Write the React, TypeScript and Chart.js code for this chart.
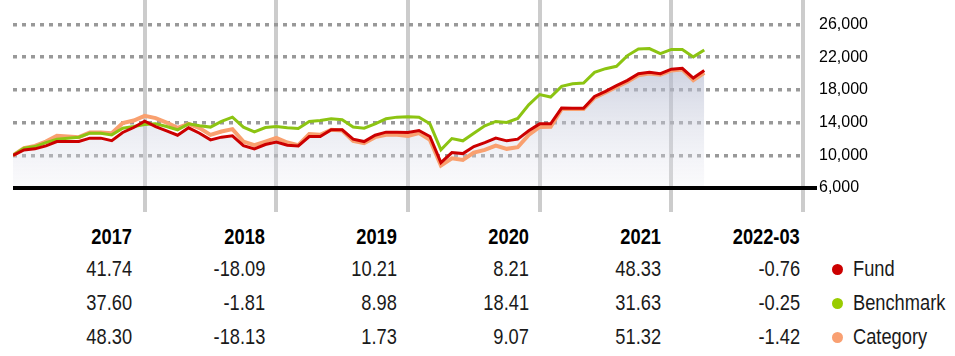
import React, { useEffect, useRef } from "react";
import { Chart, registerables } from "chart.js";

Chart.register(...registerables);

// Monthly growth of 10,000 — Dec 2016 (index 0) .. Mar 2022 (index 63)
const fundValues = [
  10000, 10660, 10790, 11150, 11680, 11680, 11700, 12100, 12100, 11800, 12790, 13400,
  14174, 13520, 13000, 12460, 13360, 12700, 11890, 12220, 12380, 11190, 10790, 11320,
  11610, 11240, 11150, 12300, 12300, 13120, 13120, 11970, 11680, 12460, 12830, 12830,
  12796, 13030, 12300, 9100, 10330, 10210, 11070, 11560, 12100, 11770, 11980, 13000,
  13846, 13850, 15780, 15760, 15760, 17200, 17820, 18520, 19170, 19990, 20150, 19990,
  20538, 20640, 19450, 20382,
];
const benchmarkValues = [
  10000, 10870, 11070, 11560, 11970, 12100, 12220, 12710, 12710, 12500, 13320, 13520,
  13760, 13850, 13520, 13120, 13850, 13610, 13450, 14140, 14670, 13450, 12870, 13400,
  13511, 13360, 13280, 14140, 14260, 14470, 14340, 13450, 13320, 13850, 14470, 14670,
  14725, 14670, 13850, 10660, 12050, 11770, 12710, 13610, 14140, 14010, 14510, 16180,
  17436, 17130, 18430, 18760, 18840, 20150, 20600, 20890, 22200, 23020, 23060, 22440,
  22951, 22930, 22040, 22894,
];
const categoryValues = [
  10000, 10870, 11150, 11680, 12380, 12300, 12220, 12790, 12790, 12710, 13940, 14260,
  14830, 14550, 14010, 13360, 13850, 13320, 12500, 12910, 13200, 11680, 11240, 11680,
  12141, 11560, 11240, 12590, 12500, 13120, 13030, 11770, 11480, 12220, 12500, 12500,
  12351, 12710, 11890, 8740, 9640, 9440, 10330, 10660, 11190, 10790, 10990, 12500,
  13471, 13500, 15650, 15650, 15650, 17050, 17700, 18350, 19000, 19800, 20000, 19850,
  20385, 20500, 19200, 20095,
];

const yTickValues = [6000, 10000, 14000, 18000, 22000, 26000];
const xMonthsSpan = 72; // Dec 2016 .. Dec 2022
const monthsPerYear = 12;

const periodLabels = ["2017", "2018", "2019", "2020", "2021", "2022-03"];
const fundReturns = [41.74, -18.09, 10.21, 8.21, 48.33, -0.76];
const benchmarkReturns = [37.6, -1.81, 8.98, 18.41, 31.63, -0.25];
const categoryReturns = [48.3, -18.13, 1.73, 9.07, 51.32, -1.42];
const seriesNames = ["Fund", "Benchmark", "Category"];

const FUND_COLOR = "#cc0000";
const BENCH_COLOR = "#8cc412";
const CAT_COLOR = "#f9a06f";
const DOT_COLORS = ["#cc0000", "#99cc00", "#f9a072"];

const TABLE_FONT = "'Liberation Sans', Arial, sans-serif";
const SQUEEZE = 0.83;

const colRight = [132, 265, 397, 529, 661, 800];
const rowCenter = [237, 269, 303, 337];

const baselinePlugin = {
  id: "baseline",
  afterDatasetsDraw(chart: any) {
    const { ctx, chartArea, scales } = chart;
    const y = scales.y.getPixelForValue(yTickValues[0]);
    ctx.save();
    ctx.strokeStyle = "#000";
    ctx.lineWidth = 4;
    ctx.beginPath();
    ctx.moveTo(chartArea.left, y);
    ctx.lineTo(chartArea.right + 14, y);
    ctx.stroke();
    ctx.restore();
  },
};

function GrowthChart() {
  const ref = useRef<HTMLCanvasElement>(null);
  useEffect(() => {
    document.body.style.margin = "0";
    const canvas = ref.current!;
    const chart = new Chart(canvas, {
      type: "line",
      data: {
        datasets: [
          {
            label: "Fund",
            data: fundValues.map((y, i) => ({ x: i, y })),
            borderColor: FUND_COLOR,
            borderWidth: 3,
            pointRadius: 0,
            tension: 0,
            fill: "start",
            backgroundColor: (c: any) => {
              const { chart } = c;
              const area = chart.chartArea;
              if (!area) return "rgba(200,204,218,0.5)";
              const g = chart.ctx.createLinearGradient(0, area.top + 50, 0, area.bottom);
              g.addColorStop(0, "rgba(165,172,198,0.65)");
              g.addColorStop(1, "rgba(235,236,243,0.25)");
              return g;
            },
          },
          {
            label: "Benchmark",
            data: benchmarkValues.map((y, i) => ({ x: i, y })),
            borderColor: BENCH_COLOR,
            borderWidth: 3,
            pointRadius: 0,
            tension: 0,
            fill: false,
          },
          {
            label: "Category",
            data: categoryValues.map((y, i) => ({ x: i, y })),
            borderColor: CAT_COLOR,
            borderWidth: 4,
            pointRadius: 0,
            tension: 0,
            fill: false,
          },
        ],
      },
      options: {
        responsive: false,
        animation: false,
        layout: { padding: { left: 13, top: 0, right: 0, bottom: 0 } },
        plugins: {
          legend: { display: false },
          tooltip: { enabled: false },
          filler: { drawTime: "beforeDatasetsDraw" },
        } as any,
        scales: {
          x: {
            type: "linear",
            min: 0,
            max: xMonthsSpan,
            ticks: { display: false, stepSize: monthsPerYear },
            grid: {
              color: (c: any) => (c.tick && c.tick.value === 0 ? "rgba(0,0,0,0)" : "#cccccc"),
              lineWidth: 4,
              drawTicks: true,
              tickLength: 24,
            },
            border: { display: false },
          },
          y: {
            type: "linear",
            position: "right",
            min: 6000,
            max: 29000,
            afterBuildTicks: (s: any) => {
              s.ticks = yTickValues.map((v) => ({ value: v }));
            },
            afterFit: (s: any) => {
              s.width = 152;
              s.paddingTop = 0;
              s.paddingBottom = 0;
            },
            ticks: {
              padding: 16,
              color: "#000",
              font: { family: "'Liberation Sans', Arial, sans-serif", size: 16 },
              callback: (v: any) => Number(v).toLocaleString("en-US"),
            },
            grid: {
              color: (c: any) => (c.tick && c.tick.value === yTickValues[0] ? "rgba(0,0,0,0)" : "#999999"),
              lineWidth: 3.5,
              drawTicks: false,
            },
            border: { display: false, dash: [4, 5] },
          },
        },
      } as any,
      plugins: [baselinePlugin],
    });
    return () => chart.destroy();
  }, []);
  return <canvas ref={ref} width={955} height={212} style={{ position: "absolute", left: 0, top: 0 }} />;
}

export default function App() {
  const rows = [fundReturns, benchmarkReturns, categoryReturns];
  const lh = 26;
  const cellBase: React.CSSProperties = {
    position: "absolute",
    lineHeight: lh + "px",
    fontFamily: TABLE_FONT,
    fontSize: 22,
    whiteSpace: "nowrap",
    transform: `scaleX(${SQUEEZE})`,
  };
  return (
    <div style={{ position: "relative", width: 955, height: 356, overflow: "hidden", background: "#fff" }}>
      <GrowthChart />
      {periodLabels.map((p, j) => (
        <div
          key={"h" + j}
          style={{
            ...cellBase,
            right: 955 - colRight[j],
            top: rowCenter[0] - lh / 2,
            fontWeight: "bold",
            color: "#000",
            transformOrigin: "right center",
          }}
        >
          {p}
        </div>
      ))}
      {rows.map((r, i) =>
        r.map((v, j) => (
          <div
            key={"v" + i + "-" + j}
            style={{
              ...cellBase,
              right: 955 - colRight[j],
              top: rowCenter[i + 1] - lh / 2,
              color: "#1a1a1a",
              transformOrigin: "right center",
            }}
          >
            {v.toFixed(2)}
          </div>
        ))
      )}
      {seriesNames.map((n, i) => (
        <React.Fragment key={"l" + i}>
          <div
            style={{
              position: "absolute",
              left: 837 - 5.5,
              top: rowCenter[i + 1] - 5.5,
              width: 11,
              height: 11,
              borderRadius: "50%",
              background: DOT_COLORS[i],
            }}
          />
          <div
            style={{
              ...cellBase,
              left: 853,
              top: rowCenter[i + 1] - lh / 2,
              color: "#1a1a1a",
              transformOrigin: "left center",
            }}
          >
            {n}
          </div>
        </React.Fragment>
      ))}
    </div>
  );
}
